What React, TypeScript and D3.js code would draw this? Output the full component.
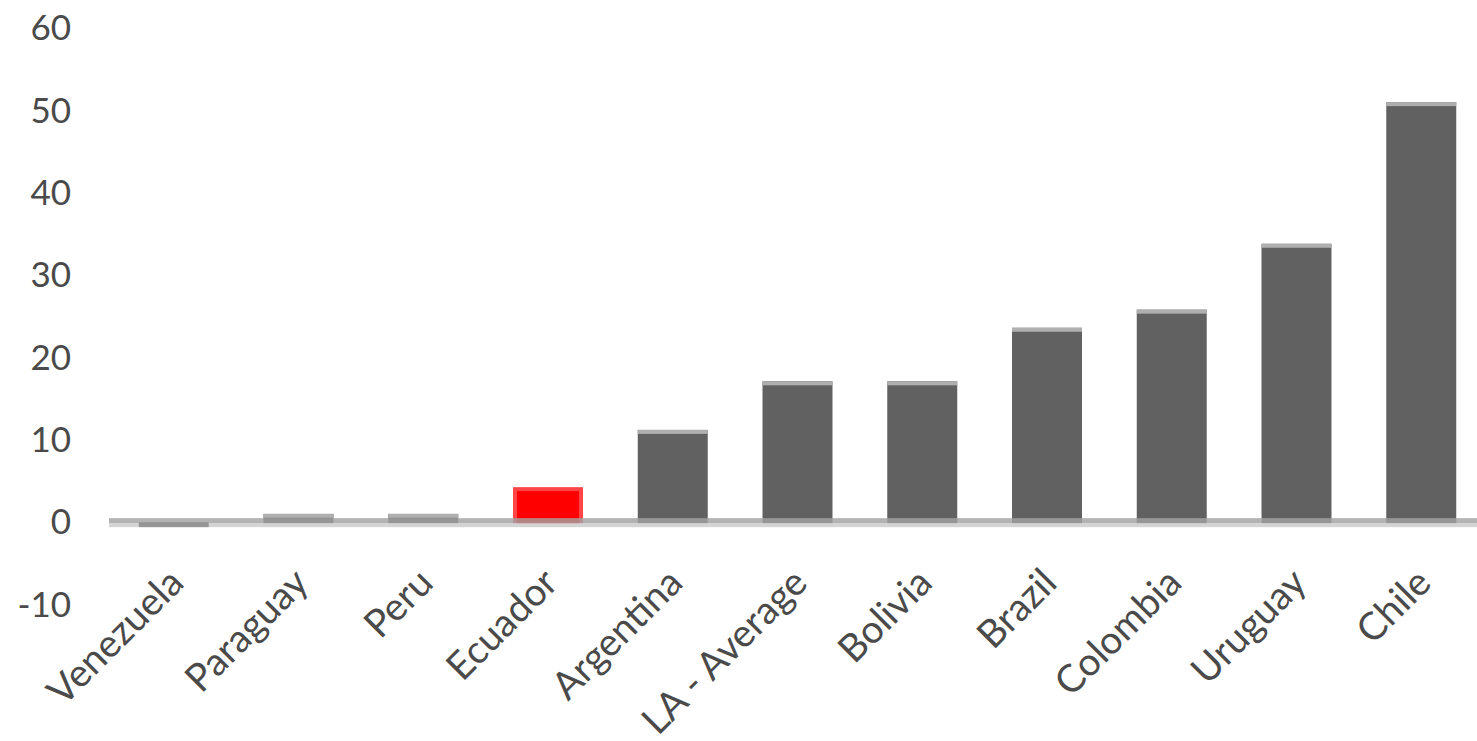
import React from "react";
import * as d3 from "d3";

// Country names along the horizontal axis
const countries = [
  "Venezuela",
  "Paraguay",
  "Peru",
  "Ecuador",
  "Argentina",
  "LA - Average",
  "Bolivia",
  "Brazil",
  "Colombia",
  "Uruguay",
  "Chile",
];

// Value for each country
const values = [-0.6, 1.0, 1.0, 4.25, 11.2, 17.1, 17.1, 23.6, 25.8, 33.8, 51.0];

// The highlighted country
const highlighted = "Ecuador";

// Value axis ticks
const yTicks = [-10, 0, 10, 20, 30, 40, 50, 60];

const WIDTH = 1477;
const HEIGHT = 741;
const FONT = "Lato, 'Open Sans', sans-serif";

export default function App() {
  const x = d3
    .scaleBand<string>()
    .domain(countries)
    .range([111, 1484])
    .paddingInner(0.439)
    .paddingOuter(0.2225);

  const y = d3.scaleLinear().domain([-10, 60]).range([604.5, 28]);
  const y0 = y(0);
  const bw = x.bandwidth();

  return (
    <div style={{ position: "fixed", left: 0, top: 0 }}>
      <svg width={WIDTH} height={HEIGHT} style={{ display: "block", background: "#fff" }}>
        {/* value axis labels */}
        <g fontFamily={FONT} fontSize={35} fill="#4a4a4a">
          {yTicks.map((t) => (
            <text key={t} x={71} y={y(t)} dy="0.35em" textAnchor="end">
              {t}
            </text>
          ))}
        </g>

        {/* bars */}
        <g>
          {countries.map((c, i) => {
            const v = values[i];
            const bx = x(c) as number;
            const top = v >= 0 ? y(v) : y0;
            const bottom = v >= 0 ? y0 + 1 : y(v);
            if (c === highlighted) {
              return (
                <g key={c}>
                  <rect x={bx} y={top} width={bw} height={bottom - top} fill="#ff4545" />
                  <rect
                    x={bx + 4}
                    y={top + 4}
                    width={bw - 8}
                    height={bottom - top - 4}
                    fill="#ff0000"
                  />
                </g>
              );
            }
            return (
              <g key={c}>
                <rect x={bx} y={top} width={bw} height={bottom - top} fill="#616161" />
                {v > 0 && <rect x={bx} y={top} width={bw} height={4} fill="#afafaf" />}
              </g>
            );
          })}
        </g>

        {/* zero line */}
        <rect x={109} y={y0 - 4} width={WIDTH - 109} height={5} fill="#a2a2a2" opacity={0.82} />
        <rect x={109} y={y0 + 1} width={WIDTH - 109} height={4} fill="#b8b8b8" opacity={0.61} />

        {/* category labels */}
        <g fontFamily={FONT} fontSize={38.5} fill="#4a4a4a">
          {countries.map((c) => {
            const cx = (x(c) as number) + bw / 2 + 12;
            const cy = 585;
            return (
              <text
                key={c}
                x={cx}
                y={cy}
                textAnchor="end"
                transform={`rotate(-45 ${cx} ${cy})`}
              >
                {c}
              </text>
            );
          })}
        </g>
      </svg>
    </div>
  );
}
